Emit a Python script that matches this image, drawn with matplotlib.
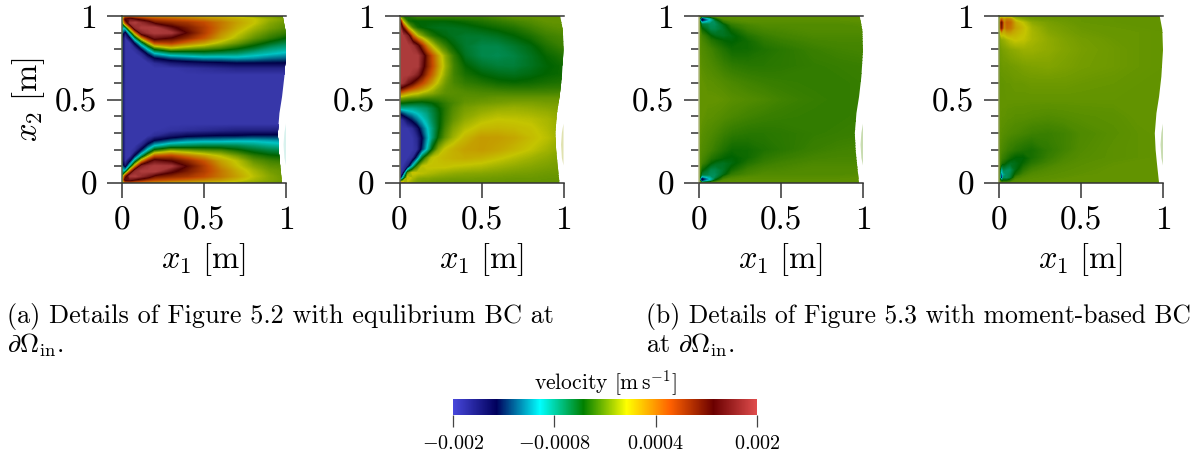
import numpy as np
import matplotlib
matplotlib.use("Agg")
import matplotlib.pyplot as plt
from matplotlib.colors import LinearSegmentedColormap, Normalize
from matplotlib.cm import ScalarMappable
from matplotlib.patches import Polygon
from matplotlib.ticker import FixedLocator

plt.rcParams["font.family"] = ["cmr10", "DejaVu Sans"]
plt.rcParams["mathtext.fontset"] = "cm"
plt.rcParams["axes.unicode_minus"] = False

W, H = 1202, 458

# velocity, in 1e-3 m/s
x_a = [0, .02, .05, .08, .12, .16, .2, .3, .4, .5, .6, .7, .8, .9, 1]
y_a = [1, .98, .96, .93, .9, .87, .84, .81, .78, .75, .72, .69, .65, .5,
       .35, .31, .28, .25, .22, .19, .16, .13, .1, .07, .04, .02, 0]
v_a = [
    [.2, .5, .5, .4, .4, .4, .4, .4, .4, .3, .3, .2, .1, .05, 0],
    [0, 1.4, 1.6, 1.4, 1.2, 1.0, .9, .8, .7, .6, .5, .4, .3, .15, .05],
    [-.3, .8, 1.9, 2, 1.8, 1.6, 1.25, 1.1, 1.0, .85, .65, .45, .3, .1, 0],
    [-.8, -.8, .6, 1.8, 2, 2, 2, 1.5, 1.2, .95, .65, .4, .2, .05, -.05],
    [-1.2, -1.7, -.7, .5, 1.7, 1.9, 2, 1.95, 1.35, .95, .55, .3, .1, -.05, -.15],
    [-1.5, -2, -1.5, -.6, .5, 1.2, 1.6, 1.4, 1.1, .8, .45, .2, 0, -.15, -.3],
    [-1.6, -2, -2, -1.4, -.6, .2, .85, .95, .65, .45, .2, .02, -.18, -.35, -.5],
    [-1.6, -2, -2, -1.9, -1.3, -.7, -.1, .25, .1, 0, -.1, -.25, -.4, -.6, -.7],
    [-1.6, -2, -2, -2, -1.85, -1.3, -.85, -.55, -.5, -.45, -.5, -.55, -.7, -.8, -.9],
    [-1.6, -2, -2, -2, -2, -1.8, -1.45, -1.2, -1.1, -1, -1, -.95, -1, -1.1, -1.15],
    [-1.6, -2, -2, -2, -2, -2, -1.9, -1.7, -1.6, -1.55, -1.5, -1.45, -1.45, -1.45, -1.45],
    [-1.6, -2, -2, -2, -2, -2, -2, -2, -1.95, -1.9, -1.85, -1.8, -1.8, -1.8, -1.8],
    [-1.6, -2, -2, -2, -2, -2, -2, -2, -2, -2, -2, -2, -2, -2, -2],
    [-1.7, -2, -2, -2, -2, -2, -2, -2, -2, -2, -2, -2, -2, -2, -2],
    [-1.6, -2, -2, -2, -2, -2, -2, -2, -2, -2, -2, -2, -2, -2, -2],
    [-1.6, -2, -2, -2, -2, -2, -2, -1.95, -1.9, -1.85, -1.8, -1.75, -1.75, -1.75, -1.7],
    [-1.6, -2, -2, -2, -2, -2, -1.9, -1.65, -1.5, -1.45, -1.4, -1.4, -1.35, -1.35, -1.35],
    [-1.6, -2, -2, -2, -2, -1.75, -1.4, -1.15, -1.0, -.95, -.95, -.9, -.9, -.95, -1.0],
    [-1.6, -2, -2, -2, -1.8, -1.25, -.85, -.55, -.5, -.45, -.45, -.5, -.6, -.7, -.75],
    [-1.6, -2, -2, -1.9, -1.3, -.7, -.1, .2, .1, 0, -.05, -.2, -.35, -.45, -.5],
    [-1.6, -2, -2, -1.4, -.6, .15, .8, .9, .65, .45, .25, .05, -.15, -.25, -.3],
    [-1.5, -2, -1.5, -.6, .5, 1.2, 1.6, 1.4, 1.1, .8, .45, .25, 0, -.1, -.15],
    [-1.2, -1.7, -.7, .5, 1.7, 1.9, 2, 1.95, 1.35, .95, .55, .3, .1, -.02, -.05],
    [-.8, -.8, .7, 1.8, 2, 2, 2, 1.5, 1.2, .95, .65, .4, .2, .05, 0],
    [-.3, 1.0, 1.95, 2, 1.8, 1.6, 1.25, 1.1, 1.0, .85, .65, .45, .25, .1, 0],
    [0, 1.5, 1.6, 1.4, 1.2, 1.0, .9, .8, .7, .6, .5, .35, .2, .1, .02],
    [.2, .5, .5, .4, .4, .4, .4, .3, .3, .25, .2, .15, .1, .05, 0],
]

x_b = [0, .02, .05, .08, .11, .14, .17, .2, .24, .28, .33, .4, .5, .6, .7, .8, .9, 1]
y_b = [1, .97, .93, .88, .82, .76, .7, .65, .6, .57, .54, .51, .48, .45, .42,
       .38, .33, .27, .2, .15, .1, .06, .03, 0]
v_b = [
    [-.1, -.2, -.2, -.15, -.1, -.1, -.1, -.1, -.1, -.1, -.1, -.1, -.1, -.05, 0, 0, 0, 0],
    [1.5, .2, -.25, -.3, -.3, -.3, -.3, -.3, -.3, -.3, -.28, -.25, -.2, -.15, -.1, -.05, 0, 0],
    [2, 1.3, .3, -.1, -.25, -.3, -.33, -.35, -.37, -.37, -.37, -.35, -.3, -.25, -.2, -.12, -.05, -.02],
    [2, 2, 1.7, .75, .25, .05, -.1, -.2, -.28, -.33, -.38, -.42, -.42, -.38, -.3, -.22, -.12, -.08],
    [2, 2, 2, 1.9, 1.55, 1.0, .55, .25, 0, -.15, -.3, -.42, -.5, -.5, -.42, -.33, -.2, -.12],
    [2, 2, 2, 2, 2, 1.65, 1.15, .8, .4, .1, -.15, -.38, -.5, -.52, -.48, -.38, -.27, -.2],
    [2, 2, 2, 2, 2, 1.55, 1.15, .85, .45, .15, -.1, -.28, -.4, -.45, -.45, -.38, -.3, -.25],
    [2, 2, 2, 1.9, 1.7, 1.3, .95, .7, .35, .1, -.1, -.22, -.3, -.35, -.37, -.33, -.28, -.25],
    [2, 1.9, 1.6, 1.35, 1.05, .85, .65, .45, .2, .03, -.08, -.15, -.2, -.25, -.27, -.25, -.22, -.2],
    [1.45, 1.3, 1.05, .85, .7, .55, .4, .25, .1, 0, -.05, -.1, -.13, -.17, -.18, -.18, -.16, -.15],
    [.7, .6, .45, .35, .3, .2, .15, .1, .03, -.02, -.03, -.05, -.07, -.08, -.09, -.09, -.09, -.08],
    [.1, .05, 0, -.03, -.05, -.08, -.1, -.1, -.1, -.08, -.05, -.02, -.02, 0, 0, 0, 0, 0],
    [-.3, -.3, -.33, -.35, -.37, -.37, -.33, -.3, -.23, -.15, -.08, 0, .03, .05, .07, .07, .05, .05],
    [-.75, -.7, -.7, -.7, -.65, -.6, -.55, -.45, -.3, -.18, -.05, .05, .1, .13, .15, .13, .1, .08],
    [-1.4, -1.25, -1.05, -.95, -.85, -.75, -.65, -.5, -.33, -.17, -.03, .08, .15, .2, .2, .18, .15, .1],
    [-2, -1.9, -1.6, -1.35, -1.1, -.9, -.75, -.55, -.33, -.15, 0, .13, .23, .28, .27, .25, .2, .12],
    [-2, -2, -2, -1.9, -1.6, -1.2, -.9, -.65, -.33, -.1, .08, .22, .33, .35, .33, .3, .22, .12],
    [-2, -2, -2, -2, -1.85, -1.45, -1.0, -.65, -.25, -.02, .17, .35, .48, .47, .42, .33, .25, .13],
    [-2, -2, -2, -2, -1.9, -1.3, -.85, -.3, .1, .3, .38, .45, .48, .43, .35, .27, .18, .1],
    [-2, -2, -2, -1.9, -1.2, -.4, 0, .25, .32, .35, .38, .4, .37, .3, .23, .17, .12, .07],
    [-2, -2, -1.8, -.85, -.1, .25, .3, .3, .3, .3, .27, .25, .22, .17, .13, .1, .07, .05],
    [-2, -1.9, -.1, .3, .27, .25, .22, .2, .17, .15, .13, .11, .1, .08, .06, .05, .03, .02],
    [-2, -.9, .35, .2, .12, .1, .1, .08, .07, .06, .05, .05, .04, .03, .02, .02, .01, .01],
    [.5, .6, .2, .1, .05, .03, .02, 0, 0, 0, 0, 0, 0, 0, 0, 0, 0, 0],
]

x_c = [0, .015, .05, .07, .1, .15, .2, .3, .4, .5, .7, .85, 1]
y_c = [1, .985, .97, .95, .92, .88, .85, .8, .7, .6, .5, .4, .3, .2, .15, .12, .08, .05, .03, .015, 0]
v_c = [
    [0, 0, 0, 0, -.02, -.02, -.02, -.02, -.02, -.02, -.02, -.02, -.02],
    [0, -1.9, -1.1, -.85, -.3, -.05, -.03, -.02, -.02, -.02, -.02, -.02, -.02],
    [0, -1.5, -1.0, -.8, -.5, -.15, -.07, -.03, -.03, -.03, -.03, -.03, -.02],
    [0, -.45, -.5, -.55, -.55, -.35, -.15, -.08, -.05, -.05, -.05, -.05, -.04],
    [0, -.25, -.4, -.5, -.5, -.4, -.25, -.12, -.08, -.07, -.05, -.05, -.05],
    [-.02, -.1, -.2, -.28, -.35, -.38, -.33, -.2, -.13, -.1, -.07, -.07, -.07],
    [-.02, -.07, -.13, -.18, -.22, -.28, -.3, -.24, -.16, -.13, -.09, -.08, -.08],
    [-.02, -.05, -.08, -.1, -.14, -.2, -.25, -.24, -.2, -.17, -.12, -.1, -.09],
    [0, -.03, -.05, -.06, -.08, -.12, -.15, -.17, -.17, -.16, -.14, -.13, -.12],
    [0, 0, -.02, -.02, -.03, -.05, -.07, -.1, -.12, -.13, -.14, -.14, -.13],
    [0, 0, 0, 0, 0, -.01, -.03, -.05, -.07, -.1, -.13, -.14, -.13],
    [0, 0, -.02, -.02, -.03, -.05, -.07, -.1, -.12, -.13, -.14, -.14, -.13],
    [0, -.03, -.05, -.06, -.08, -.12, -.15, -.17, -.17, -.16, -.14, -.13, -.12],
    [-.02, -.05, -.08, -.1, -.14, -.2, -.25, -.24, -.2, -.17, -.12, -.1, -.09],
    [-.02, -.07, -.13, -.18, -.22, -.28, -.3, -.24, -.16, -.13, -.09, -.08, -.08],
    [-.02, -.1, -.2, -.28, -.35, -.38, -.33, -.2, -.13, -.1, -.07, -.07, -.07],
    [0, -.25, -.4, -.5, -.5, -.4, -.25, -.12, -.08, -.07, -.05, -.05, -.05],
    [0, -.45, -.5, -.55, -.55, -.35, -.15, -.08, -.05, -.05, -.05, -.05, -.04],
    [0, -1.5, -1.0, -.8, -.5, -.15, -.07, -.03, -.03, -.03, -.03, -.03, -.02],
    [0, -1.9, -1.1, -.85, -.3, -.05, -.03, -.02, -.02, -.02, -.02, -.02, -.02],
    [0, 0, 0, 0, -.02, -.02, -.02, -.02, -.02, -.02, -.02, -.02, -.02],
]

x_d = [0, .015, .03, .05, .07, .1, .15, .2, .3, .4, .5, .7, .85, 1]
y_d = [1, .98, .96, .93, .9, .86, .8, .7, .6, .5, .4, .3, .2, .15, .12, .08, .05, .03, .015, 0]
v_d = [
    [0, .02, .03, .05, .05, .05, .03, .02, .01, 0, 0, 0, 0, 0],
    [.1, .7, .45, .6, .55, .2, .1, .05, .03, .02, .01, 0, 0, 0],
    [.1, 1.3, .55, .75, .7, .4, .25, .12, .06, .03, .01, 0, 0, 0],
    [.1, 1.2, .5, .7, .65, .45, .32, .18, .08, .05, .02, .01, 0, 0],
    [.05, .4, .35, .45, .45, .38, .3, .2, .1, .06, .03, .01, .01, 0],
    [.03, .12, .15, .2, .25, .3, .27, .2, .13, .08, .05, .02, .01, 0],
    [.02, .05, .07, .09, .11, .13, .16, .16, .13, .09, .06, .03, .01, 0],
    [0, .02, .03, .03, .04, .05, .07, .08, .09, .07, .05, .03, .01, 0],
    [0, 0, 0, .01, .01, .02, .02, .03, .03, .03, .02, .01, 0, 0],
    [0, 0, 0, 0, 0, 0, 0, 0, 0, 0, 0, 0, 0, 0],
    [0, -.01, -.01, -.02, -.02, -.03, -.03, -.04, -.05, -.04, -.03, -.02, 0, 0],
    [-.01, -.03, -.04, -.05, -.06, -.07, -.09, -.11, -.12, -.1, -.06, -.03, -.01, 0],
    [-.03, -.07, -.09, -.12, -.14, -.17, -.2, -.22, -.15, -.1, -.05, -.02, -.01, 0],
    [-.04, -.12, -.15, -.2, -.25, -.3, -.3, -.22, -.13, -.07, -.04, -.02, -.01, 0],
    [-.05, -.2, -.25, -.33, -.38, -.35, -.27, -.18, -.1, -.05, -.03, -.01, 0, 0],
    [-.08, -.85, -.5, -.55, -.55, -.35, -.18, -.1, -.05, -.03, -.02, 0, 0, 0],
    [-.1, -1.4, -.7, -.55, -.5, -.25, -.1, -.05, -.03, -.02, -.01, 0, 0, 0],
    [-.1, -1.7, -.55, -.55, -.45, -.12, -.05, -.03, -.02, -.01, 0, 0, 0, 0],
    [-.05, -.5, -.3, -.3, -.2, -.05, -.03, -.02, -.01, 0, 0, 0, 0, 0],
    [0, -.05, -.05, -.05, -.04, -.03, -.02, -.01, 0, 0, 0, 0, 0, 0],
]

# right outflow boundary, same for all four panels
edge_y = [1, .916, .796, .637, .517, .418, .298, .198, .118, 0]
edge_x = [.98, .996, 1, .99, .976, .96, .95, .955, .963, .976]
sliver_y = [.355, .3, .23, .15, .105]
sliver_x = [1, .99, .985, .99, 1]

rainbow = ["#4747db", "#00005c", "#00ffff", "#008000", "#ffff00", "#ff6100", "#6b0000", "#e04d4d"]
shade = 0.77

panel_left = [122, 399.5, 699, 999]
left_spine = ["#55684a", "#6a6a5a", "#b4ba88", "#8a9a50"]
sliver_col = ["#d8f2ee", "#e0e2b0", "#c8dcb0", "#c8dcb0"]
fields = [(x_a, y_a, v_a), (x_b, y_b, v_b), (x_c, y_c, v_c), (x_d, y_d, v_d)]

cbar_ticks = [-2, -2 / 3, 2 / 3, 2]
cbar_labels = ["$-0.002$", "$-0.0008$", "$0.0004$", "$0.002$"]

cmap = LinearSegmentedColormap.from_list("rainbow_desat", rainbow, N=1024)
field_colors = [tuple(c * shade for c in matplotlib.colors.to_rgb(h)) for h in rainbow]
field_cmap = LinearSegmentedColormap.from_list("rainbow_shaded", field_colors, N=1024)
norm = Normalize(-2, 2)
levels = np.linspace(-2.01, 2.01, 805)

fig = plt.figure(figsize=(W / 100, H / 100), dpi=100)

for i, (xs, ys, vs) in enumerate(fields):
    ax = fig.add_axes([panel_left[i] / W, (H - 183) / H, 164 / W, 167 / H])
    cs = ax.contourf(xs, ys, np.array(vs), levels=levels, cmap=field_cmap, norm=norm, antialiased=False)
    outline = list(zip(edge_x, edge_y)) + [(0, 0), (0, 1)]
    cs.set_clip_path(Polygon(outline, transform=ax.transData))
    ax.fill(sliver_x, sliver_y, color=sliver_col[i], lw=0)

    ax.set_xlim(0, 1)
    ax.set_ylim(0, 1)
    ax.set_xticks([0, .5, 1], ["0", "0.5", "1"])
    ax.set_yticks([0, .5, 1], ["0", "0.5", "1"])
    ax.yaxis.set_minor_locator(FixedLocator(np.arange(1, 10) / 10))
    ax.tick_params(which="major", length=10.8, width=1.1, color="#333333", labelsize=24, pad=7)
    ax.tick_params(which="minor", length=5.6, width=1.1, color="#333333")
    ax.tick_params(axis="x", pad=6)
    for side in ["top", "bottom"]:
        ax.spines[side].set_color("#333333")
        ax.spines[side].set_linewidth(1.1)
    ax.spines["right"].set_visible(False)
    ax.spines["left"].set_color(left_spine[i])
    ax.spines["left"].set_linewidth(1.1)
    ax.set_xlabel(r"$x_1\ [\mathrm{m}]$", fontsize=23.5, labelpad=4)
    if i == 0:
        ax.set_ylabel(r"$x_2\ [\mathrm{m}]$", fontsize=23.5, labelpad=6)

fig.text(7 / W, 1 - 323 / H, "(a) Details of Figure 5.2 with equlibrium BC at", fontsize=18.9)
fig.text(7 / W, 1 - 353 / H, r"$\partial\Omega_{\mathrm{in}}$.", fontsize=18.9)
fig.text(646 / W, 1 - 323 / H, "(b) Details of Figure 5.3 with moment-based BC", fontsize=18.4)
fig.text(646 / W, 1 - 353 / H, r"at $\partial\Omega_{\mathrm{in}}$.", fontsize=18.9)

cax = fig.add_axes([453 / W, (H - 415) / H, 304 / W, 16.5 / H])
cb = fig.colorbar(ScalarMappable(norm=norm, cmap=cmap), cax=cax, orientation="horizontal")
cb.outline.set_visible(False)
cb.set_ticks(cbar_ticks, labels=cbar_labels)
cb.ax.minorticks_off()
cb.ax.tick_params(length=8.5, width=0.9, color="#444444", labelsize=14.5, pad=6)
cax.set_title(r"velocity $[\mathrm{m\,s^{-1}}]$", fontsize=15.5, pad=3)

fig.savefig("out.png", dpi=100)
